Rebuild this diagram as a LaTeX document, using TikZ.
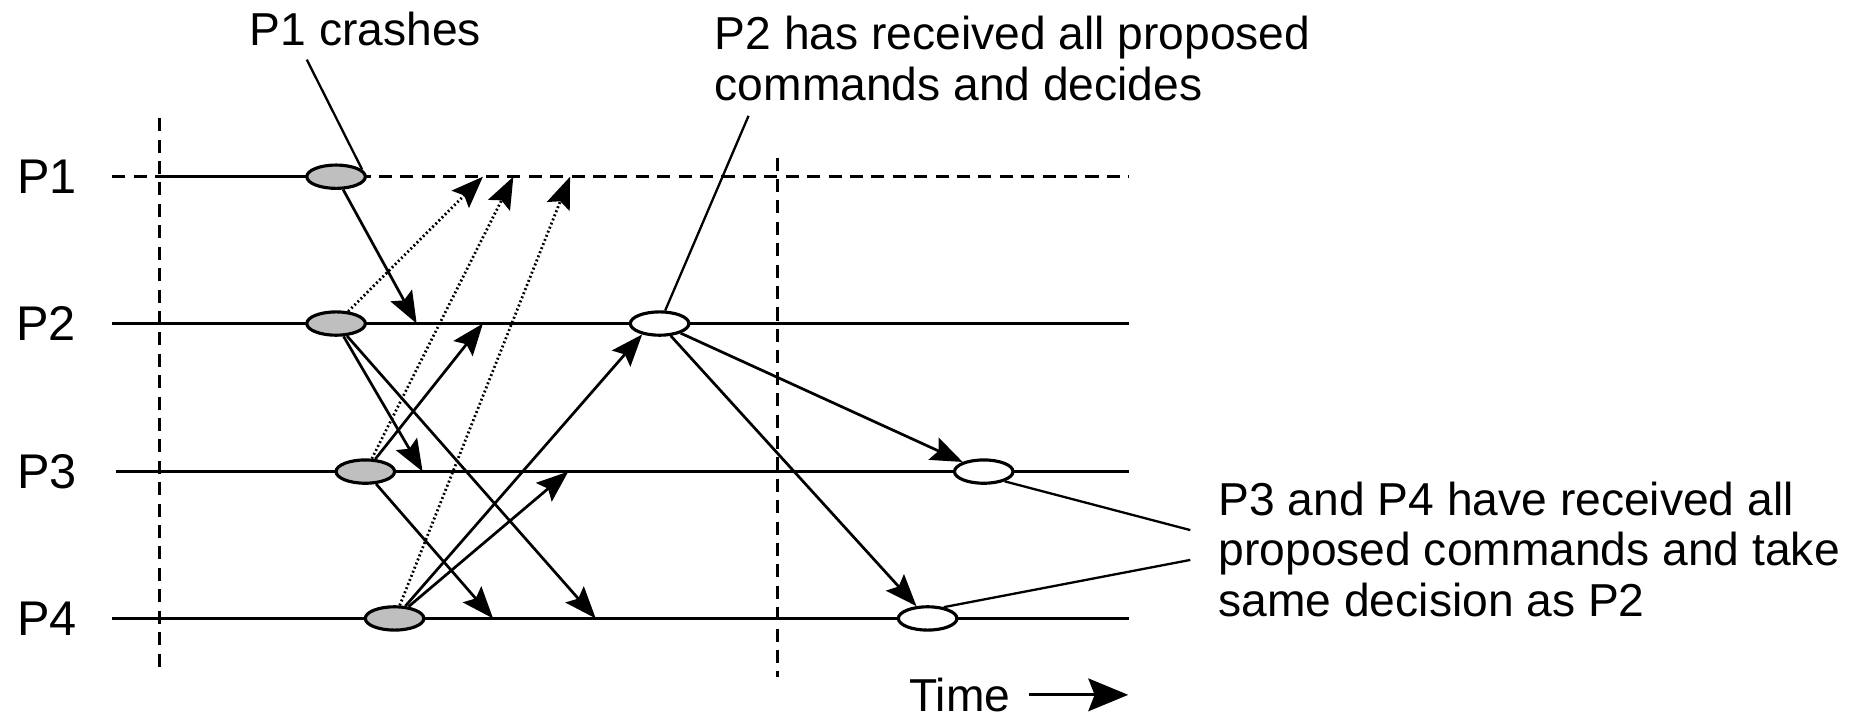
\documentclass[tikz,border=0pt]{standalone}
\usepackage{fontspec}
\setmainfont{Liberation Sans}
\usetikzlibrary{arrows.meta,shapes.geometric}
\begin{document}
\begin{tikzpicture}[>={Stealth[length=7.6pt,width=5.8pt,inset=1.3pt]},x=0.01cm,y=-0.01cm,
  every node/.style={font=\fontsize{11}{12}\selectfont,inner sep=0pt},
  proc/.style={font=\fontsize{11.6}{12}\selectfont},
  evt/.style={ellipse,draw,line width=0.75pt,minimum width=0.49cm,minimum height=0.195cm},
  crashed/.style={evt,fill=gray!50},
  decided/.style={evt,fill=white},
  tline/.style={line width=0.65pt},
  cut/.style={line width=0.65pt,dash pattern=on 3.1pt off 2pt},
  msg/.style={->,line width=0.65pt},
  lostmsg/.style={->,line width=0.65pt,dash pattern=on 0.45pt off 0.6pt},
  note/.style={line width=0.55pt}]
\useasboundingbox (0,0) rectangle (1568,599);
\def\mytlya{148}\def\mytlyb{271}\def\mytlyc{395}\def\mytlyd{518}
\def\mytlxa{94}\def\mytlxb{946}\def\mytlcuta{133.5}\def\mytlcutb{651.5}
\node[proc,anchor=east] (p1) at (65,\mytlya) {P1};
\node[proc,anchor=east] (p2) at (64,\mytlyb) {P2};
\node[proc,anchor=east] (p3) at (65,\mytlyc) {P3};
\node[proc,anchor=east] (p4) at (65,\mytlyd) {P4};
\draw[cut] (\mytlxa,\mytlya) -- (\mytlcuta,\mytlya) (281.5,\mytlya) -- (\mytlxb,\mytlya);
\draw[tline] (\mytlcuta,\mytlya) -- (281.5,\mytlya)
  (\mytlxa,\mytlyb) -- (\mytlxb,\mytlyb)
  (97,\mytlyc) -- (\mytlxb,\mytlyc)
  (\mytlxa,\mytlyd) -- (\mytlxb,\mytlyd);
\draw[cut] (\mytlcuta,99) -- (\mytlcuta,565) (\mytlcutb,132) -- (\mytlcutb,567);
\node[crashed] (g1) at (281.5,\mytlya) {};
\node[crashed] (g2) at (281.5,\mytlyb) {};
\node[crashed] (g3) at (306,\mytlyc) {};
\node[crashed] (g4) at (330.5,\mytlyd) {};
\node[decided] (w2) at (552.5,\mytlyb) {};
\node[decided] (w3) at (824,\mytlyc) {};
\node[decided] (w4) at (777,\mytlyd) {};
\coordinate (m12) at (349,\mytlyb);
\coordinate (m21) at (404.5,\mytlya);
\coordinate (m31) at (430,\mytlya);
\coordinate (m41) at (477.5,\mytlya);
\coordinate (m23) at (354,\mytlyc);
\coordinate (m24) at (499,\mytlyd);
\coordinate (m32) at (404.5,\mytlyb);
\coordinate (m34) at (413,\mytlyd);
\coordinate (m43) at (476,\mytlyc);
\draw[msg] (g1) -- (m12);
\draw[lostmsg] (g2) -- (m21);
\draw[lostmsg] (g3) -- (m31);
\draw[lostmsg] (g4) -- (m41);
\draw[msg] (g2) -- (m23);
\draw[msg] (g2) -- (m24);
\draw[msg] (g3) -- (m32);
\draw[msg] (g3) -- (m34);
\draw[msg] (g4) -- (w2.212);
\draw[msg] (g4) -- (m43);
\draw[msg] (w2) -- (w3);
\draw[msg] (w2) -- (w4);
\node[anchor=base] (crash) at (306,38) {P1 crashes};
\coordinate (crashpt) at (257,50);
\draw[note] (crashpt) -- (g1.15);
\node[anchor=base west,align=left] (dec) at (598,84) {P2 has received all proposed\\commands and decides};
\coordinate (decpt) at (627,97);
\draw[note] (decpt) -- (w2);
\node[anchor=base west,align=left] (same) at (1020,516) {P3 and P4 have received all\\proposed commands and take\\same decision as P2};
\coordinate (samea) at (997,444);
\coordinate (sameb) at (997,469);
\draw[note] (samea) -- (w3.-25) (sameb) -- (w4.35);
\node (time) at (804,582) {Time};
\coordinate (timeend) at (945,582);
\draw[line width=0.65pt,-{Stealth[length=9.5pt,width=7.8pt,inset=1.5pt]},shorten <=0.15cm] (time) -- (timeend);
\end{tikzpicture}
\end{document}
